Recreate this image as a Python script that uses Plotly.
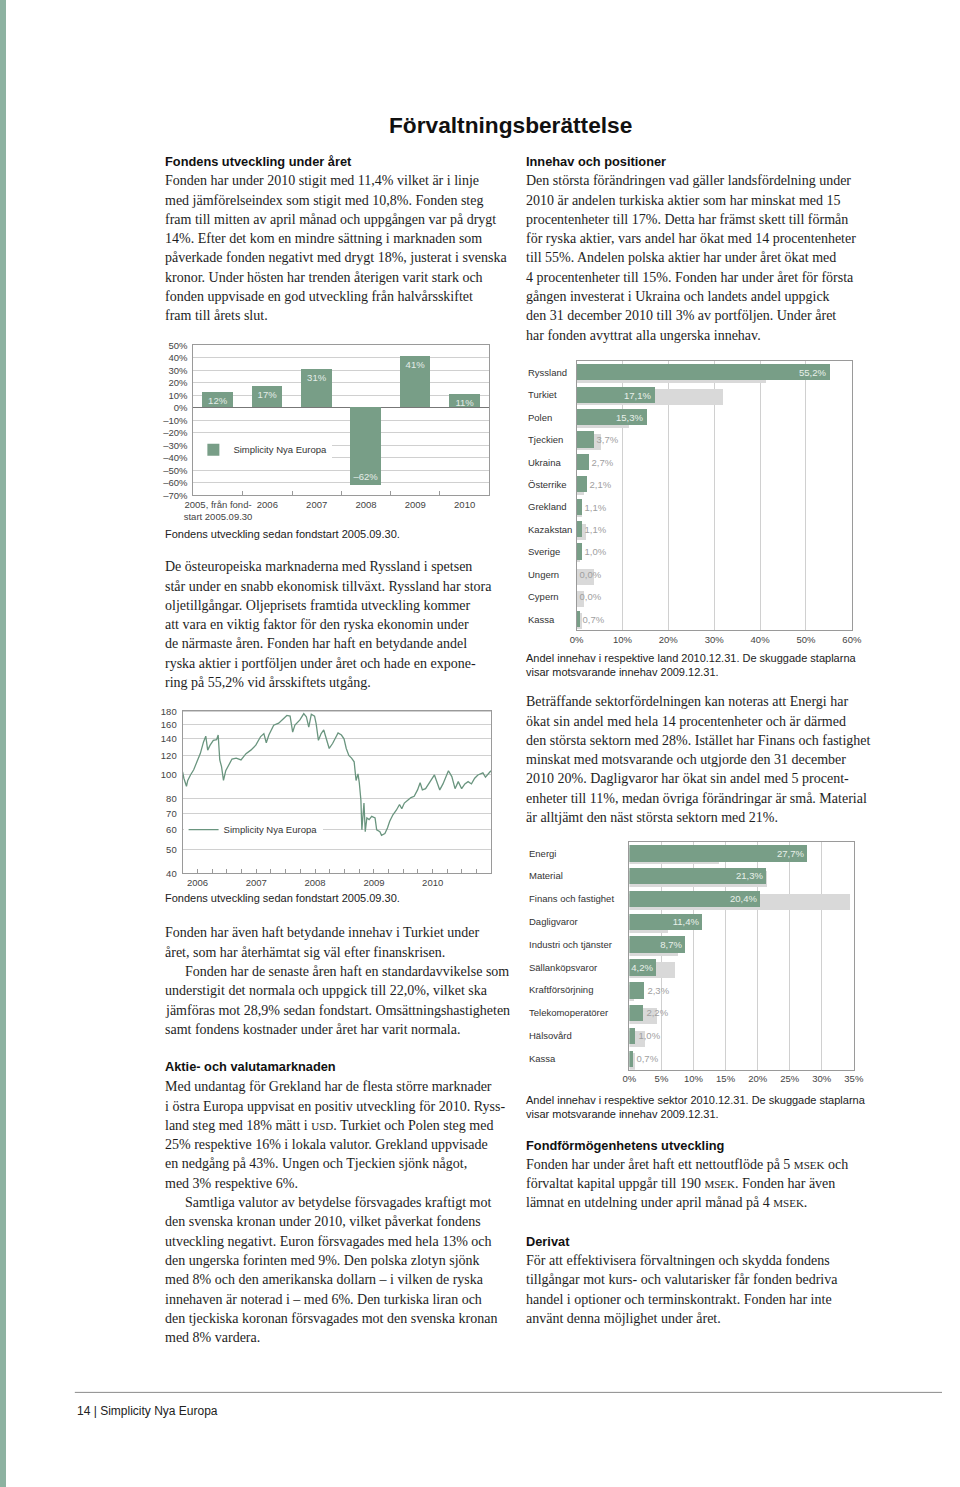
import plotly.graph_objects as go

# page is 960x1487; the browser keeps an 8px body margin.  The figure is kept a bit
# smaller than the page so that no scrollbars appear.
M = 8
W, H = 944, 1440
def px(x): return (x - M) / W
def py(y): return 1 - (y - M) / H

SERIF = "Liberation Serif"
SANS = "Liberation Sans"
GREEN = "#789e87"
SHADE = "#d9d9d9"
GRID = "#d0d0d0"
FRAME = "#9a9a9a"
TICKC = "#444444"

# ---------------- data ----------------
year_labels = ["2005, från fond-<br>start 2005.09.30", "2006", "2007", "2008", "2009", "2010"]
annual_return = [12, 17, 31, -62, 41, 11]
return_ticks = [50, 40, 30, 20, 10, 0, -10, -20, -30, -40, -50, -60, -70]

nav_dates = ["2005-09-30","2005-10-08","2005-10-24","2005-11-01","2005-11-18","2005-12-08","2005-12-28","2006-01-18","2006-02-07","2006-02-21",
             "2006-03-05","2006-03-20","2006-04-09","2006-04-29","2006-05-09","2006-05-19","2006-05-30","2006-06-11","2006-06-25","2006-07-13",
             "2006-08-03","2006-08-29","2006-09-28","2006-10-29","2006-11-28","2006-12-29","2007-01-28","2007-02-17","2007-03-04","2007-03-20",
             "2007-04-19","2007-05-20","2007-06-19","2007-07-10","2007-07-30","2007-08-15","2007-08-29","2007-09-29","2007-10-23","2007-11-08",
             "2007-11-23","2007-12-09","2007-12-29","2008-01-08","2008-01-22","2008-02-08","2008-02-24","2008-03-13","2008-03-29","2008-04-19",
             "2008-05-09","2008-05-23","2008-06-13","2008-06-29","2008-07-13","2008-07-29","2008-08-15","2008-08-31","2008-09-12","2008-09-24",
             "2008-10-02","2008-10-12","2008-10-18","2008-10-31","2008-11-08","2008-11-18","2008-12-02","2008-12-18","2009-01-08","2009-01-18",
             "2009-02-07","2009-02-17","2009-03-10","2009-03-26","2009-04-09","2009-04-29","2009-05-20","2009-06-09","2009-06-23","2009-07-09",
             "2009-07-30","2009-08-19","2009-09-08","2009-09-29","2009-10-15","2009-10-29","2009-11-18","2009-12-09","2009-12-29","2010-01-12",
             "2010-01-24","2010-02-14","2010-03-06","2010-03-26","2010-04-09","2010-04-30","2010-05-20","2010-06-09","2010-06-30","2010-07-20",
             "2010-08-09","2010-08-30","2010-09-19","2010-10-09","2010-11-09","2010-11-25","2010-12-15","2010-12-29"]
nav_values = [103, 97, 90, 95, 100, 105, 113, 122, 136, 143.5,
              126, 132, 138, 139, 145, 115, 108, 95, 104, 110,
              116, 117, 115, 122, 126, 132, 143, 147, 135, 145,
              159, 162, 169, 174, 173, 149, 159, 167, 177, 172,
              156, 176, 173, 161, 138, 147, 152, 140, 128, 134,
              143, 148, 145, 140, 128, 120, 117, 113, 95, 101,
              93, 79, 60, 77, 59, 67, 66, 68, 67, 60,
              59, 57, 58, 61, 65, 69, 72, 76, 73, 77,
              79, 81, 82, 87, 93, 87, 88, 92, 97, 100,
              95, 87, 92, 100, 104, 98.5, 88, 94, 88, 92,
              94, 92, 97, 100, 102, 98, 102, 104]
nav_ticks = [40, 50, 60, 70, 80, 100, 120, 140, 160, 180]

countries = ["Ryssland", "Turkiet", "Polen", "Tjeckien", "Ukraina", "Österrike",
             "Grekland", "Kazakstan", "Sverige", "Ungern", "Cypern", "Kassa"]
country_2010 = [55.2, 17.1, 15.3, 3.7, 2.7, 2.1, 1.1, 1.1, 1.0, 0.0, 0.0, 0.7]
country_2009 = [41.2, 31.8, 11.3, 5.2, 0.0, 1.6, 1.0, 1.9, 0.6, 3.8, 1.6, 1.1]
country_ticks = [0, 10, 20, 30, 40, 50, 60]

sectors = ["Energi", "Material", "Finans och fastighet", "Dagligvaror", "Industri och tjänster",
           "Sällanköpsvaror", "Kraftförsörjning", "Telekomoperatörer", "Hälsovård", "Kassa"]
sector_2010 = [27.7, 21.3, 20.4, 11.4, 8.7, 4.2, 2.3, 2.2, 1.0, 0.7]
sector_2009 = [14.1, 21.6, 34.4, 6.1, 7.6, 7.1, 0.8, 4.4, 2.5, 0.9]
sector_ticks = [0, 5, 10, 15, 20, 25, 30, 35]

def pct(v):
    return f"{v:.1f}".replace(".", ",") + "%"

def signed(v):
    return (f"{v}%").replace("-", "–")

fig = go.Figure()

# ---- chart 1: annual returns ----
fig.add_trace(go.Bar(
    x=year_labels, y=annual_return, xaxis="x", yaxis="y",
    name="Simplicity Nya Europa", legend="legend",
    marker=dict(color=GREEN, line=dict(width=0)), width=0.62,
    text=[signed(v) for v in annual_return], textposition="inside",
    insidetextanchor="end", constraintext="none", textangle=0,
    textfont=dict(family=SANS, size=9.5, color="#e4ede7"),
))

# ---- chart 2: NAV ----
fig.add_trace(go.Scatter(
    x=nav_dates, y=nav_values, xaxis="x2", yaxis="y2", mode="lines",
    name="Simplicity Nya Europa", legend="legend2",
    line=dict(color="#6a957f", width=1.3),
))

# ---- chart 3: countries ----
fig.add_trace(go.Bar(
    y=countries, x=country_2009, orientation="h", xaxis="x3", yaxis="y3",
    marker=dict(color=SHADE, line=dict(width=0)), width=0.72, offset=-0.24,
    showlegend=False,
))
fig.add_trace(go.Bar(
    y=countries, x=country_2010, orientation="h", xaxis="x3", yaxis="y3",
    marker=dict(color=GREEN, line=dict(width=0)), width=0.72, offset=-0.36,
    showlegend=False,
    text=[pct(v) for v in country_2010],
    textposition=["inside" if v >= 10 else "outside" for v in country_2010],
    insidetextanchor="end", constraintext="none", cliponaxis=False,
    insidetextfont=dict(family=SANS, size=9.5, color="#e8f0ea"),
    outsidetextfont=dict(family=SANS, size=9.5, color="#a0a0a0"),
))

# ---- chart 4: sectors ----
fig.add_trace(go.Bar(
    y=sectors, x=sector_2009, orientation="h", xaxis="x4", yaxis="y4",
    marker=dict(color=SHADE, line=dict(width=0)), width=0.72, offset=-0.24,
    showlegend=False,
))
fig.add_trace(go.Bar(
    y=sectors, x=sector_2010, orientation="h", xaxis="x4", yaxis="y4",
    marker=dict(color=GREEN, line=dict(width=0)), width=0.72, offset=-0.36,
    showlegend=False,
    text=[pct(v) for v in sector_2010],
    textposition=["inside" if v >= 4 else "outside" for v in sector_2010],
    insidetextanchor="end", constraintext="none", cliponaxis=False,
    insidetextfont=dict(family=SANS, size=9.5, color="#e8f0ea"),
    outsidetextfont=dict(family=SANS, size=9.5, color="#a0a0a0"),
))

tickfont = dict(family=SANS, size=9.5, color=TICKC)

layout = dict(
    width=W, height=H, autosize=False,
    margin=dict(l=0, r=0, t=0, b=0),
    paper_bgcolor="white", plot_bgcolor="white",
    barmode="overlay", bargap=0,
    font=dict(family=SANS, size=10, color="#222"),
    # chart 1
    xaxis=dict(domain=[px(188), px(490)], anchor="y", type="category",
               showline=True, mirror=True, linecolor=FRAME, linewidth=1,
               ticks="inside", tickson="boundaries", ticklen=4, tickcolor=FRAME,
               tickangle=0, tickfont=tickfont, showgrid=False, fixedrange=True),
    yaxis=dict(domain=[py(493), py(342)], anchor="x", range=[-70, 50],
               tickvals=return_ticks, ticktext=[signed(v) for v in return_ticks],
               showline=True, mirror=True, linecolor=FRAME, linewidth=1,
               showgrid=True, gridcolor=GRID, zeroline=True, zerolinecolor="#777",
               zerolinewidth=1, ticks="", tickfont=tickfont, ticklabelstandoff=3),
    # chart 2
    xaxis2=dict(domain=[px(177), px(492)], anchor="y2", type="date",
                range=["2005-09-30", "2010-12-31"], tick0="2006-01-01", dtick="M12",
                tickformat="%Y", ticks="inside", ticklen=4, tickcolor=FRAME, tickangle=0,
                minor=dict(dtick="M3", ticks="inside", ticklen=4, tickcolor=FRAME, showgrid=False),
                showline=True, mirror=True, linecolor=FRAME, showgrid=False,
                tickfont=tickfont),
    yaxis2=dict(domain=[py(874), py(710)], anchor="x2", type="log",
                range=[1.60206, 2.2601], tickvals=nav_ticks, ticktext=[str(v) for v in nav_ticks],
                showline=True, mirror=True, linecolor=FRAME, showgrid=True, gridcolor=GRID,
                ticks="", tickfont=tickfont, ticklabelstandoff=3),
    # chart 3
    xaxis3=dict(domain=[px(579), px(860)], anchor="y3", range=[0, 60],
                tickvals=country_ticks, ticktext=[f"{v}%" for v in country_ticks],
                showline=True, mirror=True, linecolor=FRAME, showgrid=True, gridcolor=GRID,
                zeroline=False, ticks="", tickangle=0, tickfont=tickfont),
    yaxis3=dict(domain=[py(629), py(358)], anchor="x3", type="category",
                range=[len(countries) - 0.5, -0.5], showticklabels=False,
                showline=True, mirror=True, linecolor=FRAME, showgrid=False, ticks=""),
    # chart 4
    xaxis4=dict(domain=[px(633), px(862)], anchor="y4", range=[0, 35],
                tickvals=sector_ticks, ticktext=[f"{v}%" for v in sector_ticks],
                showline=True, mirror=True, linecolor=FRAME, showgrid=True, gridcolor=GRID,
                zeroline=False, ticks="", tickangle=0, tickfont=tickfont),
    yaxis4=dict(domain=[py(1072), py(842)], anchor="x4", type="category",
                range=[len(sectors) - 0.5, -0.5], showticklabels=False,
                showline=True, mirror=True, linecolor=FRAME, showgrid=False, ticks=""),
    legend=dict(x=px(188), y=py(447), xanchor="left", yanchor="middle",
                bgcolor="white", borderwidth=0, font=dict(family=SANS, size=9.5, color="#333"),
                itemwidth=30, tracegroupgap=0),
    legend2=dict(x=px(178), y=py(830), xanchor="left", yanchor="middle",
                 bgcolor="white", borderwidth=0, font=dict(family=SANS, size=9.5, color="#333"),
                 itemwidth=30),
)

annotations = []
def ann(text, x, y, size, family, color="#222", xanchor="left", xref="paper", yref="paper"):
    annotations.append(dict(text=text, x=x, y=y, xref=xref, yref=yref, xanchor=xanchor,
                            yanchor="middle", showarrow=False,
                            font=dict(family=family, size=size, color=color)))

def body(lines, x, y0, step=19.45):
    for i, ln in enumerate(lines):
        indent = 0
        if ln.startswith(">"):
            indent, ln = 20, ln[1:]
        ann(ln, px(x + indent), py(y0 + i * step), 14, SERIF, "#1e1e1e")

def heading(text, x, y):
    ann(f"<b>{text}</b>", px(x), py(y), 12.8, SANS, "#111")

SC = lambda s: f"<span style='font-size:11px'>{s}</span>"

# title
ann("<b>Förvaltningsberättelse</b>", px(512), py(120), 22.7, SANS, "#111", xanchor="center")

# left column
heading("Fondens utveckling under året", 157, 157)
body(["Fonden har under 2010 stigit med 11,4% vilket är i linje",
      "med jämförelseindex som stigit med 10,8%. Fonden steg",
      "fram till mitten av april månad och uppgången var på drygt",
      "14%. Efter det kom en mindre sättning i marknaden som",
      "påverkade fonden negativt med drygt 18%, justerat i svenska",
      "kronor. Under hösten har trenden återigen varit stark och",
      "fonden uppvisade en god utveckling från halvårsskiftet",
      "fram till årets slut."], 157, 176)
body(["De östeuropeiska marknaderna med Ryssland i spetsen",
      "står under en snabb ekonomisk tillväxt. Ryssland har stora",
      "oljetillgångar. Oljeprisets framtida utveckling kommer",
      "att vara en viktig faktor för den ryska ekonomin under",
      "de närmaste åren. Fonden har haft en betydande andel",
      "ryska aktier i portföljen under året och hade en expone-",
      "ring på 55,2% vid årsskiftets utgång."], 157, 565)
body(["Fonden har även haft betydande innehav i Turkiet under",
      "året, som har återhämtat sig väl efter finanskrisen.",
      ">Fonden har de senaste åren haft en standardavvikelse som",
      "understigit det normala och uppgick till 22,0%, vilket ska",
      "jämföras mot 28,9% sedan fondstart. Omsättningshastigheten",
      "samt fondens kostnader under året har varit normala."], 157, 934)
heading("Aktie- och valutamarknaden", 157, 1069)
body(["Med undantag för Grekland har de flesta större marknader",
      "i östra Europa uppvisat en positiv utveckling för 2010. Ryss-",
      f"land steg med 18% mätt i {SC('USD')}. Turkiet och Polen steg med",
      "25% respektive 16% i lokala valutor. Grekland uppvisade",
      "en nedgång på 43%. Ungen och Tjeckien sjönk något,",
      "med 3% respektive 6%.",
      ">Samtliga valutor av betydelse försvagades kraftigt mot",
      "den svenska kronan under 2010, vilket påverkat fondens",
      "utveckling negativt. Euron försvagades med hela 13% och",
      "den ungerska forinten med 9%. Den polska zlotyn sjönk",
      "med 8% och den amerikanska dollarn – i vilken de ryska",
      "innehaven är noterad i – med 6%. Den turkiska liran och",
      "den tjeckiska koronan försvagades mot den svenska kronan",
      "med 8% vardera."], 157, 1089)

# right column
heading("Innehav och positioner", 525, 157)
body(["Den största förändringen vad gäller landsfördelning under",
      "2010 är andelen turkiska aktier som har minskat med 15",
      "procentenheter till 17%. Detta har främst skett till förmån",
      "för ryska aktier, vars andel har ökat med 14 procentenheter",
      "till 55%. Andelen polska aktier har under året ökat med",
      "4 procentenheter till 15%. Fonden har under året för första",
      "gången investerat i Ukraina och landets andel uppgick",
      "den 31 december 2010 till 3% av portföljen. Under året",
      "har fonden avyttrat alla ungerska innehav."], 525, 176)
body(["Beträffande sektorfördelningen kan noteras att Energi har",
      "ökat sin andel med hela 14 procentenheter och är därmed",
      "den största sektorn med 28%. Istället har Finans och fastighet",
      "minskat med motsvarande och utgjorde den 31 december",
      "2010 20%. Dagligvaror har ökat sin andel med 5 procent-",
      "enheter till 11%, medan övriga förändringar är små. Material",
      "är alltjämt den näst största sektorn med 21%."], 525, 701)
heading("Fondförmögenhetens utveckling", 525, 1148)
body([f"Fonden har under året haft ett nettoutflöde på 5 {SC('MSEK')} och",
      f"förvaltat kapital uppgår till 190 {SC('MSEK')}. Fonden har även",
      f"lämnat en utdelning under april månad på 4 {SC('MSEK')}."], 525, 1167)
heading("Derivat", 525, 1245)
body(["För att effektivisera förvaltningen och skydda fondens",
      "tillgångar mot kurs- och valutarisker får fonden bedriva",
      "handel i optioner och terminskontrakt. Fonden har inte",
      "använt denna möjlighet under året."], 525, 1264)

# captions
cap = dict(size=11, family=SANS, color="#222")
ann("Fondens utveckling sedan fondstart 2005.09.30.", px(157), py(532), **cap)
ann("Fondens utveckling sedan fondstart 2005.09.30.", px(157), py(899), **cap)
ann("Andel innehav i respektive land 2010.12.31. De skuggade staplarna", px(525), py(657), **cap)
ann("visar motsvarande innehav 2009.12.31.", px(525), py(671), **cap)
ann("Andel innehav i respektive sektor 2010.12.31. De skuggade staplarna", px(525), py(1102), **cap)
ann("visar motsvarande innehav 2009.12.31.", px(525), py(1116), **cap)

# category labels (left aligned)
for i, c in enumerate(countries):
    ann(c, px(527), i, 9.5, SANS, "#333", yref="y3")
for i, s in enumerate(sectors):
    ann(s, px(528), i, 9.5, SANS, "#333", yref="y4")

# footer
ann("14 | Simplicity Nya Europa", px(67), py(1416), 12, SANS, "#222")

layout["annotations"] = annotations
layout["shapes"] = [
    dict(type="line", xref="paper", yref="paper", x0=px(67), x1=1, y0=py(1397), y1=py(1397),
         line=dict(color="#8a8a8a", width=1)),
]

fig.update_layout(**layout)
fig.write_html(
    "out.html", config={"displayModeBar": False},
    post_script=("document.documentElement.style.background="
                 "'linear-gradient(to right, #8db2a1 0px, #8db2a1 6px, #ffffff 6px, #ffffff 100%)';"
                 "document.body.style.background='transparent';"),
)
